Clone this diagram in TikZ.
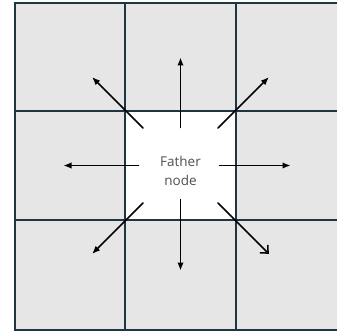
\documentclass[tikz,border=0pt]{standalone}
\usepackage{fontspec}
\setsansfont{Open Sans}
\usetikzlibrary{arrows.meta}
\definecolor{gridpencol}{HTML}{1E3642}
\definecolor{cellgray}{HTML}{E6E6E6}
\definecolor{textgray}{HTML}{505050}
\begin{document}
\begin{tikzpicture}[x=1pt,y=-1pt,line cap=round,line join=round,
  gridpen/.style={draw=gridpencol,line width=2.5pt,line cap=rect},
  spread/.style={line width=1.5pt,-{Latex[length=8pt,width=6.5pt]}},
  spreadopen/.style={line width=1.5pt,-{Straight Barb[length=6pt,width=11pt]}}]
  \useasboundingbox (0,0) rectangle (337,334);
  \clip (0,0) rectangle (337,334);
  % cells
  \fill[cellgray] (15,3) rectangle (346,330);
  \fill[white] (125,111) rectangle (236,220);
  \foreach \x in {15,125,236,346} \draw[gridpen] (\x,3) -- (\x,330);
  \foreach \y in {3,111,220,330} \draw[gridpen] (15,\y) -- (346,\y);
  % father node
  \coordinate (c) at (180.5,165.5);
  \node[font=\sffamily\fontsize{13.5}{19}\selectfont,text=textgray,align=center]
    (father) at (180.5,170.5) {Father\\node};
  % arrows to the neighbours
  \foreach \a/\r/\R in {270/38/108,90/34/105,0/39/110,180/42/117,315/53/125,135/53/125,225/53/125}{
    \path (c) ++(\a:\r) coordinate (s\a);
    \path (c) ++(\a:\R) coordinate (e\a);
    \draw[spread] (s\a) -- (e\a);
  }
  \path (c) ++(45:53) coordinate (sse);
  \path (c) ++(45:125) coordinate (ese);
  \draw[spreadopen] (sse) -- (ese);
\end{tikzpicture}
\end{document}
